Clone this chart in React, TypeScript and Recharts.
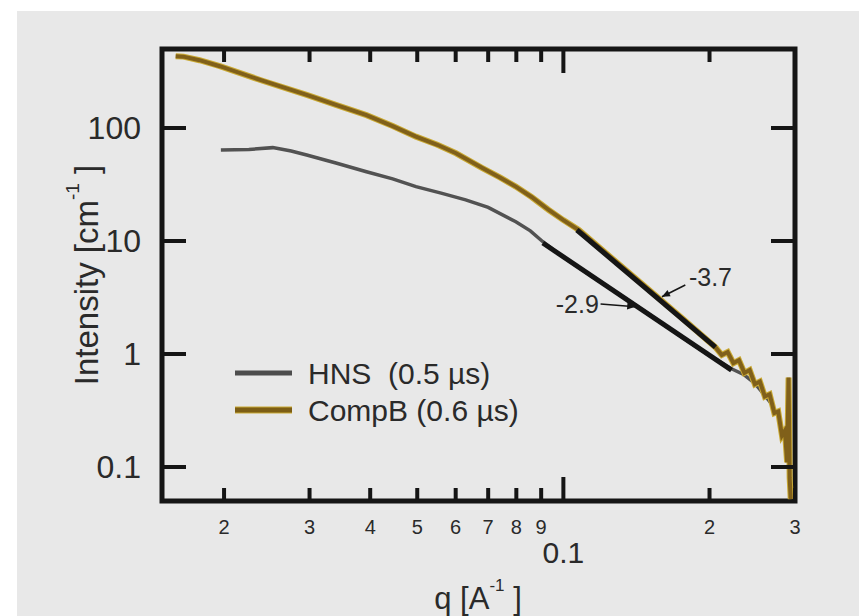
import React from "react";
import {
  ComposedChart,
  Line,
  XAxis,
  YAxis,
  ReferenceArea,
  ReferenceLine,
  ReferenceDot,
  Legend,
} from "recharts";

const W = 868;
const H = 616;
const PLOT = { left: 162, top: 49, right: 795, bottom: 501 };
const INK = "#151515";
const TEXT = "#2a2a2a";
const FONT = "'Liberation Sans', Arial, Helvetica, sans-serif";

const X_DOMAIN = [0.0149, 0.3];
const Y_DOMAIN = [0.05, 500];

// HNS (0.5 µs) scattering curve
const hnsQ = [
  0.0197, 0.0225, 0.0252, 0.0275, 0.0296, 0.034, 0.0393, 0.0445, 0.0497, 0.056,
  0.0629, 0.07, 0.0798, 0.0855, 0.0906, 0.1, 0.115, 0.13, 0.15, 0.175, 0.2,
  0.222, 0.235, 0.248, 0.26, 0.27,
];
const hnsI = [
  63.8, 64.5, 67, 62.5, 57.7, 49, 41, 35.5, 30.3, 26.5, 23.1, 19.8, 14.8, 12.3,
  9.9, 7.2, 4.8, 3.4, 2.25, 1.42, 0.97, 0.74, 0.66, 0.55, 0.43, 0.35,
];

// CompB (0.6 µs) scattering curve
const compQ = [
  0.0159, 0.0165, 0.0178, 0.0196, 0.024, 0.0296, 0.034, 0.0393, 0.0445, 0.0497,
  0.055, 0.0601, 0.0681, 0.074, 0.0798, 0.086, 0.0933, 0.1, 0.1076, 0.125, 0.15,
  0.175, 0.2056, 0.212, 0.218, 0.224, 0.23, 0.236, 0.242, 0.248, 0.254, 0.26,
  0.266, 0.272, 0.277, 0.282, 0.286, 0.289, 0.291, 0.2925, 0.294,
];
const compI = [
  432, 428, 398, 352, 262, 196, 160, 130, 104, 83.8, 71, 59.7, 44.2, 36.5, 30.3,
  24.5, 18.8, 15.3, 12.5, 7.2, 3.7, 2.1, 1.15, 0.98, 1.04, 0.83, 0.88, 0.68,
  0.72, 0.54, 0.57, 0.42, 0.44, 0.3, 0.31, 0.19, 0.21, 0.11, 0.62, 0.08, 0.052,
];

// power-law fits drawn in black
const hnsFitQ = [0.0907, 0.222];
const hnsFitI = [9.6, 0.72];
const compFitQ = [0.1066, 0.2056];
const compFitI = [12.5, 1.15];

// slope annotations
const noteText = ["-3.7", "-2.9"];
const noteQ = [0.2009, 0.1183];
const noteI = [4.8, 2.77];
const noteAnchor = ["middle", "end"];
const arrowFrom = [
  { x: 0.1783, y: 4.08 },
  { x: 0.1193, y: 2.77 },
];
const arrowTo = [
  { x: 0.1596, y: 3.21 },
  { x: 0.1406, y: 2.62 },
];

const xTicks = [0.02, 0.03, 0.04, 0.05, 0.06, 0.07, 0.08, 0.09, 0.1, 0.2, 0.3];
const xTickLabels = ["2", "3", "4", "5", "6", "7", "8", "9", "0.1", "2", "3"];
const yTicks = [0.1, 1, 10, 100];
const yTickLabels = ["0.1", "1", "10", "100"];

const legendNames = ["HNS  (0.5 \u00b5s)", "CompB (0.6 \u00b5s)"];
const legendColors = ["#4d4d4d", "#7d5e14"];

const toRows = (qs: number[], is: number[]) => qs.map((q, k) => ({ q, I: is[k] }));

const hnsData = toRows(hnsQ, hnsI);
const compData = toRows(compQ, compI);
const hnsFit = toRows(hnsFitQ, hnsFitI);
const compFit = toRows(compFitQ, compFitI);

function XTick(props: any) {
  const { x, payload } = props;
  const i = xTicks.indexOf(payload.value);
  const major = payload.value === 0.1;
  const len = major ? 24 : 13;
  return (
    <g>
      <line x1={x} x2={x} y1={PLOT.bottom} y2={PLOT.bottom - len} stroke={INK} strokeWidth={4} />
      <line x1={x} x2={x} y1={PLOT.top} y2={PLOT.top + len} stroke={INK} strokeWidth={4} />
      <text
        x={x}
        y={major ? PLOT.bottom + 51 : PLOT.bottom + 26}
        textAnchor="middle"
        dominantBaseline="central"
        fontSize={major ? 30 : 20}
        fontFamily={FONT}
        fill={TEXT}
      >
        {xTickLabels[i]}
      </text>
    </g>
  );
}

function YTick(props: any) {
  const { y, payload } = props;
  const i = yTicks.indexOf(payload.value);
  return (
    <g>
      <line x1={PLOT.left} x2={PLOT.left + 24} y1={y} y2={y} stroke={INK} strokeWidth={4} />
      <line x1={PLOT.right} x2={PLOT.right - 24} y1={y} y2={y} stroke={INK} strokeWidth={4} />
      <text
        x={PLOT.left - 21}
        y={y}
        textAnchor="end"
        dominantBaseline="central"
        fontSize={32}
        fontFamily={FONT}
        fill={TEXT}
      >
        {yTickLabels[i]}
      </text>
    </g>
  );
}

function Arrow(props: any) {
  const { x1, y1, x2, y2 } = props;
  const a = Math.atan2(y2 - y1, x2 - x1);
  const s = 8;
  const p1 = `${x2},${y2}`;
  const p2 = `${x2 - s * Math.cos(a) + 3.5 * Math.sin(a)},${y2 - s * Math.sin(a) - 3.5 * Math.cos(a)}`;
  const p3 = `${x2 - s * Math.cos(a) - 3.5 * Math.sin(a)},${y2 - s * Math.sin(a) + 3.5 * Math.cos(a)}`;
  return (
    <g>
      <line x1={x1} y1={y1} x2={x2} y2={y2} stroke={INK} strokeWidth={1.5} />
      <polygon points={`${p1} ${p2} ${p3}`} fill={INK} />
    </g>
  );
}

function renderLegend() {
  return (
    <svg width={330} height={80}>
      {legendNames.map((name, k) => (
        <g key={name}>
          {k === 1 && (
            <line x1={7} x2={64} y1={21 + k * 37} y2={21 + k * 37} stroke="#c9a934" strokeWidth={7} />
          )}
          <line
            x1={7}
            x2={64}
            y1={21 + k * 37}
            y2={21 + k * 37}
            stroke={legendColors[k]}
            strokeWidth={5}
          />
          <text
            x={80}
            y={21 + k * 37}
            dominantBaseline="central"
            fontSize={30}
            fontFamily={FONT}
            fill={TEXT}
            style={{ whiteSpace: "pre" }}
          >
            {name}
          </text>
        </g>
      ))}
    </svg>
  );
}

export default function App() {
  return (
    <div style={{ position: "absolute", left: 0, top: 0, width: W, height: H, background: "#ffffff" }}>
      <div
        style={{
          position: "absolute",
          left: 17,
          top: 11,
          width: 842,
          height: H - 11,
          background: "#e8e8e8",
        }}
      />
      <div style={{ position: "absolute", left: 0, top: 0 }}>
        <ComposedChart
          width={W}
          height={H}
          margin={{ top: PLOT.top, right: W - PLOT.right, bottom: 0, left: 0 }}
        >
          <XAxis
            dataKey="q"
            type="number"
            scale="log"
            domain={X_DOMAIN}
            allowDataOverflow
            ticks={xTicks}
            interval={0}
            height={H - PLOT.bottom}
            axisLine={false}
            tickLine={false}
            tickSize={0}
            tick={<XTick />}
            label={{
              content: () => (
                <text
                  x={478}
                  y={598}
                  textAnchor="middle"
                  dominantBaseline="central"
                  fontSize={31}
                  fontFamily={FONT}
                  fill={TEXT}
                >
                  q [A
                  <tspan dy={-13} fontSize={17}>-1</tspan>
                  <tspan dy={13}> ]</tspan>
                </text>
              ),
            }}
          />
          <YAxis
            dataKey="I"
            type="number"
            scale="log"
            domain={Y_DOMAIN}
            allowDataOverflow
            ticks={yTicks}
            interval={0}
            width={PLOT.left}
            axisLine={false}
            tickLine={false}
            tickSize={0}
            tick={<YTick />}
            label={{
              content: () => (
                <text
                  transform="translate(86,275) rotate(-90)"
                  textAnchor="middle"
                  dominantBaseline="central"
                  fontSize={33}
                  fontFamily={FONT}
                  fill={TEXT}
                >
                  Intensity [cm
                  <tspan dy={-14} fontSize={19}>-1</tspan>
                  <tspan dy={14}> ]</tspan>
                </text>
              ),
            }}
          />
          <Line
            data={hnsData}
            dataKey="I"
            type="linear"
            stroke="#525252"
            strokeWidth={3.5}
            dot={false}
            isAnimationActive={false}
            legendType="none"
          />
          <Line
            data={compData}
            dataKey="I"
            type="linear"
            stroke="#c9a934"
            strokeWidth={6}
            dot={false}
            isAnimationActive={false}
            legendType="none"
          />
          <Line
            data={compData}
            dataKey="I"
            type="linear"
            stroke="#80601a"
            strokeWidth={4}
            dot={false}
            isAnimationActive={false}
            legendType="none"
          />
          <Line
            data={hnsFit}
            dataKey="I"
            type="linear"
            stroke={INK}
            strokeWidth={5}
            dot={false}
            isAnimationActive={false}
            legendType="none"
          />
          <Line
            data={compFit}
            dataKey="I"
            type="linear"
            stroke={INK}
            strokeWidth={5}
            dot={false}
            isAnimationActive={false}
            legendType="none"
          />
          {arrowFrom.map((from, k) => (
            <ReferenceLine
              key={`arrow-${k}`}
              segment={[from, arrowTo[k]]}
              ifOverflow="visible"
              shape={(p: any) => <Arrow {...p} />}
            />
          ))}
          {noteText.map((t, k) => (
            <ReferenceDot
              key={`note-${k}`}
              x={noteQ[k]}
              y={noteI[k]}
              r={0}
              ifOverflow="visible"
              shape={(p: any) => (
                <text
                  x={p.cx}
                  y={p.cy}
                  textAnchor={noteAnchor[k]}
                  dominantBaseline="central"
                  fontSize={25}
                  fontFamily={FONT}
                  fill={TEXT}
                >
                  {t}
                </text>
              )}
            />
          ))}
          <ReferenceArea
            x1={X_DOMAIN[0]}
            x2={X_DOMAIN[1]}
            y1={Y_DOMAIN[0]}
            y2={Y_DOMAIN[1]}
            ifOverflow="visible"
            fill="none"
            fillOpacity={0}
            stroke={INK}
            strokeWidth={5}
          />
          <Legend
            layout="vertical"
            align="center"
            verticalAlign="middle"
            content={renderLegend}
            wrapperStyle={{ left: 228, top: 352, width: 330, height: 80 }}
          />
        </ComposedChart>
      </div>
    </div>
  );
}
